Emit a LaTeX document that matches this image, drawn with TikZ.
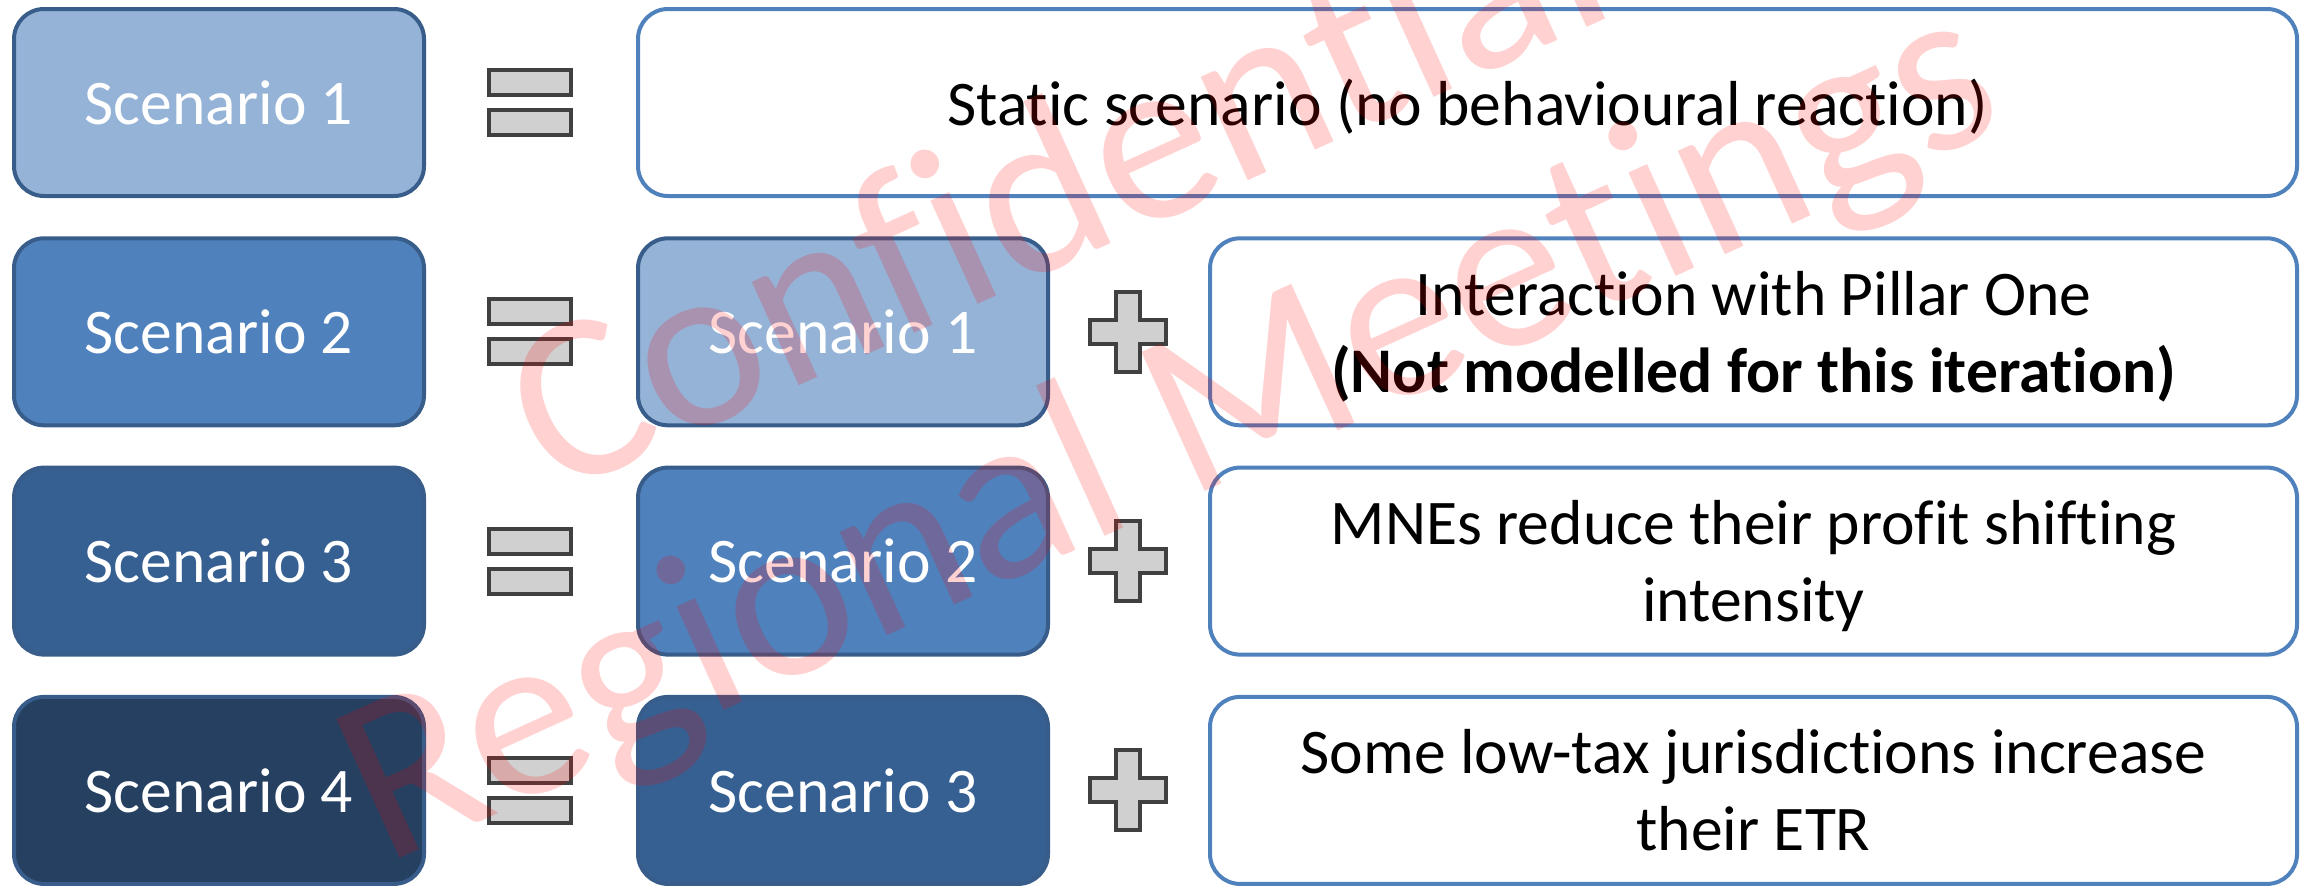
\documentclass[tikz,border=0pt]{standalone}
\usepackage{fontspec}
\setmainfont{Carlito}[Ligatures=NoCommon]
\definecolor{scA}{HTML}{95B3D7}
\definecolor{scB}{HTML}{4F81BD}
\definecolor{scC}{HTML}{366092}
\definecolor{scD}{HTML}{254061}
\definecolor{scEdge}{HTML}{385D8A}
\definecolor{descEdge}{HTML}{4F81BD}
\definecolor{signFill}{HTML}{D0D0D0}
\definecolor{signEdge}{HTML}{404040}
\newcommand{\nodepth}[1]{\raisebox{0pt}[\height][0pt]{#1}}
\tikzset{
  scen/.style={draw=scEdge, line width=2pt, rounded corners=15pt,
    minimum width=205pt, minimum height=93.5pt, inner sep=0pt,
    text=white, font=\fontsize{31.8}{38.5}\selectfont},
  desc/.style={draw=descEdge, line width=2pt, rounded corners=15pt, fill=white,
    minimum height=93.5pt, inner sep=0pt, text=black, align=center,
    font=\fontsize{31.8}{38.5}\selectfont},
  bar/.style={draw=signEdge, fill=signFill, line width=2pt,
    minimum width=41pt, minimum height=12.5pt, inner sep=0pt},
  sign/.style={draw=signEdge, fill=signFill, line width=2pt},
  crossmark/.pic={\draw[sign] (-12,-40) -- (12,-40) -- (12,-12) -- (38,-12)
    -- (38,12) -- (12,12) -- (12,40) -- (-12,40) -- (-12,12) -- (-38,12)
    -- (-38,-12) -- (-12,-12) -- cycle;},
  wm/.style={text=red, text opacity=0.18, align=center, rotate=24.5,
    font=\fontsize{119}{132}\selectfont}
}
\begin{document}
\begin{tikzpicture}[x=0.5pt,y=-0.5pt]
\useasboundingbox (0,0) rectangle (2308,885);

% left column: the scenarios being defined
\node[scen, fill=scA] (s1) at (219,102.5) {Scenario 1};
\node[scen, fill=scB] (s2) at (219,331.8) {Scenario 2};
\node[scen, fill=scC] (s3) at (219,561.1) {Scenario 3};
\node[scen, fill=scD] (s4) at (219,790.4) {Scenario 4};

% equals signs
\foreach \r/\y in {1/102.5, 2/331.8, 3/561.1, 4/790.4}{
  \node[bar] (eqa\r) at (530,\y-20) {};
  \node[bar] (eqb\r) at (530,\y+20) {};
}

% middle column: the base scenario
\node[scen, fill=scA] (m2) at (843,331.8) {Scenario 1};
\node[scen, fill=scB] (m3) at (843,561.1) {Scenario 2};
\node[scen, fill=scC] (m4) at (843,790.4) {Scenario 3};

% plus signs
\pic at (1128,331.8) {crossmark};
\pic at (1128,561.1) {crossmark};
\pic at (1128,790.4) {crossmark};

% descriptions
\node[desc, minimum width=829.5pt] (d1) at (1467.5,102.5)
  {\nodepth{Static scenario (no behavioural reaction)}};
\node[desc, minimum width=543.5pt] (d2) at (1753.5,331.8)
  {Interaction with Pillar One\\\nodepth{\textbf{(Not modelled for this iteration)}}};
\node[desc, minimum width=543.5pt] (d3) at (1753.5,561.1)
  {MNEs reduce their profit shifting\\\nodepth{intensity}};
\node[desc, minimum width=543.5pt] (d4) at (1753.5,790.4)
  {Some low-tax jurisdictions increase\\their ETR};

% watermark
\node[wm] (wmark) at (1117,318) {Confidential\\Regional Meetings};
\end{tikzpicture}
\end{document}
